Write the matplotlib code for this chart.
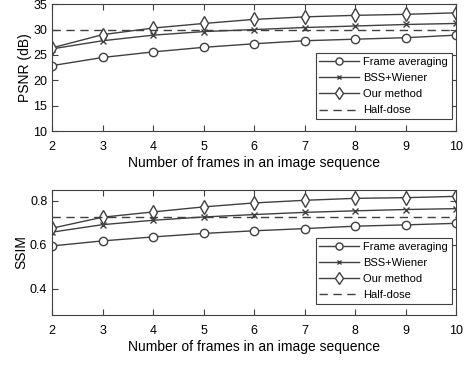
import numpy as np
import matplotlib.pyplot as plt

plt.rcParams['font.family'] = ['Liberation Sans', 'DejaVu Sans']

# Data
frames = [2, 3, 4, 5, 6, 7, 8, 9, 10]

psnr_avg = [22.9, 24.5, 25.6, 26.5, 27.2, 27.8, 28.1, 28.4, 28.9]
psnr_bss = [26.2, 27.8, 28.9, 29.6, 30.0, 30.4, 30.7, 31.0, 31.2]
psnr_ours = [26.4, 29.0, 30.3, 31.2, 32.0, 32.5, 32.8, 33.0, 33.3]
psnr_half = 30.0

ssim_avg = [0.595, 0.618, 0.636, 0.652, 0.664, 0.674, 0.685, 0.691, 0.698]
ssim_bss = [0.658, 0.692, 0.712, 0.727, 0.738, 0.748, 0.755, 0.761, 0.765]
ssim_ours = [0.676, 0.726, 0.750, 0.773, 0.791, 0.803, 0.812, 0.815, 0.821]
ssim_half = 0.729

labels = ["Frame averaging", "BSS+Wiener", "Our method", "Half-dose"]

col = '#404040'

fig = plt.figure(figsize=(4.74, 3.8), dpi=100)
ax1 = fig.add_axes([0.110, 0.655, 0.852, 0.334])
ax2 = fig.add_axes([0.110, 0.171, 0.852, 0.329])


def draw(ax, avg, bss, ours, half, ylabel, leg_top):
    ax.plot(frames, avg, color=col, lw=1.0, marker='o', ms=6, mfc='white', mec=col, mew=1.0)
    ax.plot(frames, bss, color=col, lw=1.0, marker='x', ms=4, mec=col, mew=1.0)
    ax.plot(frames, ours, color=col, lw=1.0, marker='d', ms=7.5, mfc='white', mec=col, mew=1.0)
    ax.plot(frames, [half] * len(frames), color=col, lw=1.0, ls=(0, (6, 4)))
    ax.set_xlim(2, 10)
    ax.set_xticks(frames)
    ax.set_ylabel(ylabel, fontsize=10, labelpad=1)
    ax.set_xlabel("Number of frames in an image sequence", fontsize=10, labelpad=2)
    ax.tick_params(direction='in', top=True, right=True, labelsize=9, length=4, color=col)
    ax.tick_params(axis='x', pad=7)
    for s in ax.spines.values():
        s.set_color(col)
        s.set_linewidth(0.8)
    leg = ax.legend(labels, loc='upper right', bbox_to_anchor=(0.99, leg_top),
                    borderaxespad=0, fontsize=8, handlelength=3.6, handletextpad=0.35,
                    labelspacing=0.55, borderpad=0.35, fancybox=False, framealpha=1,
                    markerscale=0.85)
    leg.get_frame().set_edgecolor(col)
    leg.get_frame().set_linewidth(0.8)


draw(ax1, psnr_avg, psnr_bss, psnr_ours, psnr_half, "PSNR (dB)", 0.614)
ax1.set_ylim(10, 35)
ax1.set_yticks([10, 15, 20, 25, 30, 35])

draw(ax2, ssim_avg, ssim_bss, ssim_ours, ssim_half, "SSIM", 0.616)
ax2.set_ylim(0.28, 0.85)
ax2.set_yticks([0.4, 0.6, 0.8])

fig.savefig("out.png", dpi=100)
